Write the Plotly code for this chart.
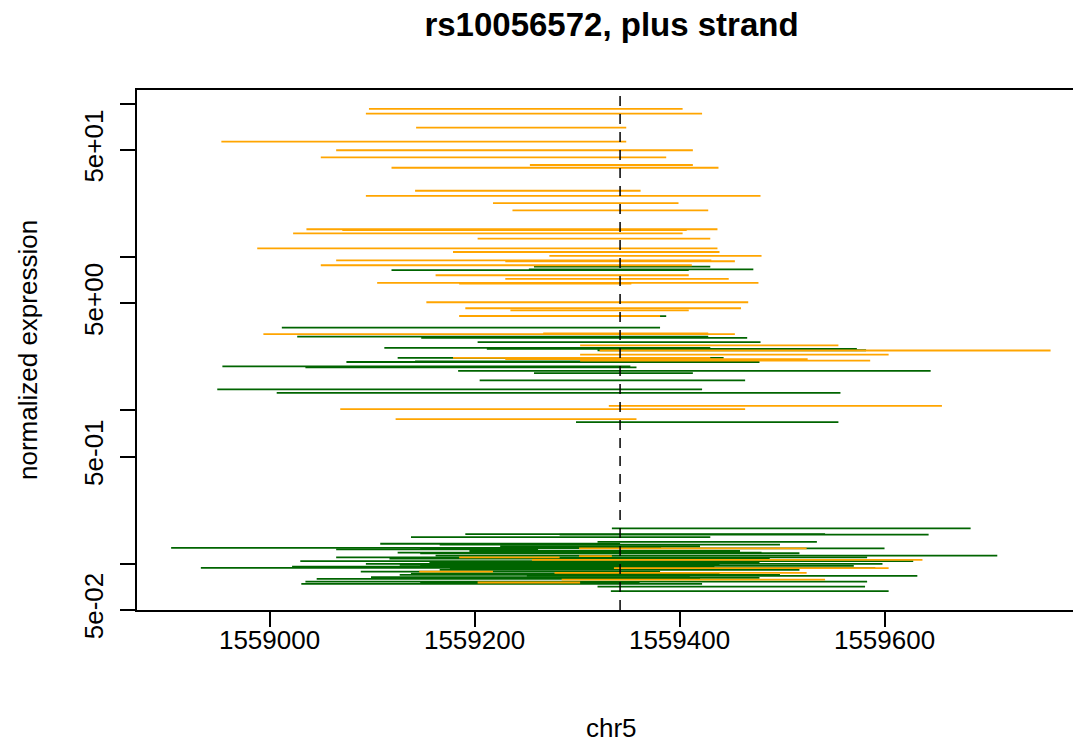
import plotly.graph_objects as go

# ---- data ----
snp_position = 1559342
x_tick_values = [1559000, 1559200, 1559400, 1559600]
y_tick_values = [0.05, 0.1, 0.5, 1, 5, 10, 50, 100]
y_tick_labels = ["5e-02", "", "5e-01", "", "5e+00", "", "5e+01", ""]

# orange reads: start, end, normalized expression
orange_start = [1559097, 1559094, 1559143, 1558953, 1559065, 1559050, 1559254, 1559119,
                1559142, 1559094, 1559218, 1559237, 1559036, 1559071, 1559023, 1559203,
                1558988, 1559179, 1559273, 1559065, 1559230, 1559050, 1559162, 1559230,
                1559105, 1559185, 1559153, 1559191, 1559235, 1559185, 1558994, 1559267,
                1559303, 1559322, 1559303, 1559179, 1559230, 1559303, 1559331, 1559069,
                1559123, 1559302, 1559256, 1559336, 1559146, 1559278, 1559285, 1559203,
                1559302, 1559185]
orange_end = [1559403, 1559422, 1559348, 1559348, 1559413, 1559387, 1559413, 1559438,
              1559362, 1559479, 1559399, 1559428, 1559437, 1559407, 1559403, 1559430,
              1559437, 1559439, 1559480, 1559431, 1559454, 1559412, 1559409, 1559448,
              1559477, 1559353, 1559467, 1559460, 1559409, 1559381, 1559454, 1559428,
              1559555, 1559762, 1559604, 1559430, 1559525, 1559586, 1559656, 1559464,
              1559358, 1559524, 1559637, 1559604, 1559218, 1559524, 1559542, 1559303,
              1559334, 1559283]
orange_expr = [92.6, 86.3, 69.9, 56.7, 49.8, 44.8, 39.9, 38.3,
               27.1, 25.1, 22.5, 20.2, 15.2, 15.0, 14.3, 13.2,
               11.4, 10.8, 10.2, 9.54, 9.40, 8.85, 7.62, 7.21,
               6.79, 6.71, 5.08, 4.64, 4.50, 4.13, 3.15, 3.18,
               2.66, 2.46, 2.31, 2.20, 2.16, 2.11, 1.07, 1.02,
               0.877, 0.126, 0.106, 0.0935, 0.0889, 0.0871, 0.0788, 0.0754,
               0.112, 0.110]

# green reads: start, end, normalized expression
green_start = [1559258, 1559119, 1559253, 1559190, 1559012, 1559027, 1559148, 1559203,
               1559112, 1559212, 1559320, 1559125, 1559075, 1559142, 1558954, 1559035,
               1559184, 1559258, 1559205, 1558949, 1559007, 1559299,
               1559334, 1559191, 1559283, 1559138, 1559320, 1558904, 1559147, 1559065,
               1559125, 1559162, 1559065, 1559030, 1559094, 1559147, 1559022, 1558933,
               1559176, 1559089, 1559138, 1559251, 1559099, 1559046, 1559035, 1559031,
               1559320, 1559333, 1559166, 1559195, 1559147, 1559117, 1559156, 1559127,
               1559166, 1559127, 1559195, 1559147, 1559225, 1559108]
green_end = [1559430, 1559409, 1559472, 1559387, 1559381, 1559428, 1559466, 1559479,
             1559430, 1559573, 1559582, 1559443, 1559478, 1559469, 1559352, 1559358,
             1559645, 1559413, 1559464, 1559422, 1559557, 1559555,
             1559684, 1559542, 1559643, 1559430, 1559534, 1559382, 1559600, 1559262,
             1559480, 1559710, 1559583, 1559628, 1559598, 1559570, 1559434, 1559420,
             1559591, 1559381, 1559439, 1559632, 1559410, 1559420, 1559583, 1559422,
             1559581, 1559604, 1559498, 1559459, 1559517, 1559488, 1559478, 1559439,
             1559517, 1559498, 1559478, 1559361, 1559420, 1559342]
green_expr = [8.67, 8.22, 8.31, 4.12, 3.47, 3.03, 2.97, 2.79,
              2.56, 2.52, 2.47, 2.20, 2.07, 2.09, 1.94, 1.91,
              1.81, 1.75, 1.57, 1.37, 1.30, 0.838,
              0.170, 0.156, 0.155, 0.149, 0.139, 0.127, 0.126, 0.124,
              0.118, 0.113, 0.110, 0.104, 0.0998, 0.0968, 0.0958, 0.0940,
              0.0935, 0.0889, 0.0862, 0.0833, 0.0817, 0.0796, 0.0765, 0.0739,
              0.0709, 0.0662, 0.133, 0.121, 0.117, 0.108, 0.102, 0.0983,
              0.0912, 0.0846, 0.0808, 0.0750, 0.130, 0.135]


def segments(starts, ends, values):
    xs, ys = [], []
    for s, e, v in zip(starts, ends, values):
        xs += [s, e, None]
        ys += [v, v, None]
    return xs, ys


FONT = "Liberation Sans, Arial, Helvetica, sans-serif"
FS = 26

fig = go.Figure()
gx, gy = segments(green_start, green_end, green_expr)
fig.add_trace(go.Scatter(x=gx, y=gy, mode="lines", line=dict(color="#006400", width=1.8),
                         showlegend=False, hoverinfo="skip"))
ox, oy = segments(orange_start, orange_end, orange_expr)
fig.add_trace(go.Scatter(x=ox, y=oy, mode="lines", line=dict(color="#FFA500", width=1.8),
                         showlegend=False, hoverinfo="skip"))

fig.add_shape(type="line", xref="x", yref="paper", x0=snp_position, x1=snp_position,
              y0=0, y1=1, line=dict(color="black", width=1.5, dash="10px,8px"))

L, R, T, B = 137, 2, 90, 132
W, H = 1075, 742
plot_w = W - L - R
plot_h = H - T - B

fig.update_layout(
    width=W, height=H,
    margin=dict(l=L, r=R, t=T, b=B, pad=0),
    plot_bgcolor="white", paper_bgcolor="white",
    font=dict(family=FONT, color="black", size=FS),
    title=dict(text="<b>rs10056572, plus strand</b>", xref="container", yref="container",
               x=611.5 / W, xanchor="center", y=1 - 24 / H, yanchor="middle",
               font=dict(family=FONT, size=33, color="black")),
    xaxis=dict(range=[1558870.7, 1558870.7 + plot_w / 1.025], tickvals=x_tick_values,
               ticktext=[str(v) for v in x_tick_values],
               showgrid=False, zeroline=False, showline=True, mirror=True,
               linecolor="black", linewidth=1.5, ticks="outside", ticklen=15,
               tickwidth=1.5, tickcolor="black", ticklabelstandoff=-9,
               tickfont=dict(family=FONT, size=FS, color="black")),
    yaxis=dict(type="log", range=[-1.302, 2.0904], tickvals=y_tick_values,
               ticktext=y_tick_labels, tickangle=-90,
               showgrid=False, zeroline=False, showline=True, mirror=False,
               linecolor="black", linewidth=1.5, ticks="outside", ticklen=15,
               tickwidth=1.5, tickcolor="black", ticklabelstandoff=7,
               tickfont=dict(family=FONT, size=FS, color="black")),
    annotations=[
        dict(text="chr5", xref="paper", yref="paper", x=(611.5 - L) / plot_w,
             y=(610 - 728) / plot_h, xanchor="center", yanchor="middle", showarrow=False,
             font=dict(family=FONT, size=FS, color="black")),
        dict(text="normalized expression", xref="paper", yref="paper",
             x=(28 - L) / plot_w, y=0.5, xanchor="center", yanchor="middle",
             textangle=-90, showarrow=False,
             font=dict(family=FONT, size=FS, color="black")),
    ],
)

fig.write_html("out.html")
